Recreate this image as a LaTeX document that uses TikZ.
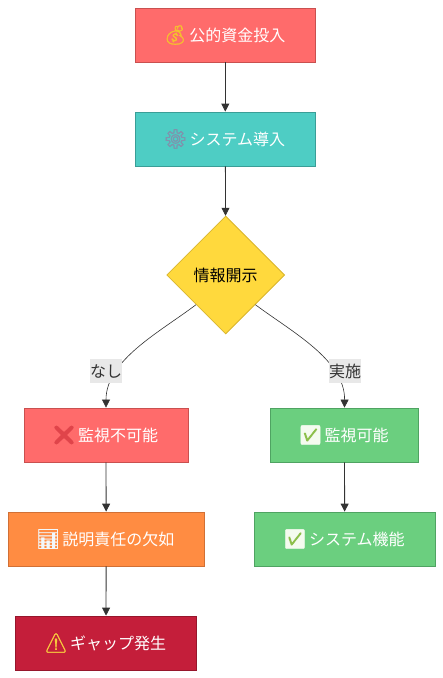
\documentclass[tikz,border=0pt]{standalone}
\usepackage{fontspec}
\setmainfont{Noto Sans CJK JP}
\newfontfamily\emo[FakeBold=1.5]{Noto Emoji}
\usetikzlibrary{shapes.geometric,arrows.meta}
\definecolor{cred}{HTML}{FF6B6B}\definecolor{credd}{HTML}{C9504F}
\definecolor{cteal}{HTML}{4ECDC4}\definecolor{ctealD}{HTML}{3A9E97}
\definecolor{cyel}{HTML}{FFD93D}\definecolor{cyelD}{HTML}{D9B52E}
\definecolor{cgrn}{HTML}{6BCF7F}\definecolor{cgrnD}{HTML}{4FA362}
\definecolor{corg}{HTML}{FF8C42}\definecolor{corgD}{HTML}{D17035}
\definecolor{ccrim}{HTML}{C41E3A}\definecolor{ccrimD}{HTML}{96162C}
\definecolor{cline}{HTML}{333333}\definecolor{clab}{HTML}{E8E8E8}
\definecolor{egold}{HTML}{F5C02E}\definecolor{egear}{HTML}{7F93AD}\definecolor{ered}{HTML}{E0444A}
\definecolor{echk}{HTML}{F4FBEF}\definecolor{echkbg}{HTML}{8CBF4A}\definecolor{ewarn}{HTML}{F8C93E}\definecolor{echart}{HTML}{F2F7FA}
\tikzset{
  x=1pt,y=-1pt,
  procbox/.style={draw,line width=0.8pt,text=white,font=\fontsize{16}{20}\selectfont,inner sep=0pt,minimum height=54pt,anchor=center},
  flow/.style={draw=cline,line width=0.8pt,-{Triangle[length=8pt,width=8pt]}},
  edgelab/.style={fill=clab,text=cline,font=\fontsize{16}{20}\selectfont,inner sep=0pt,minimum width=32pt,minimum height=24pt},
}
\newcommand{\emj}[2]{\hspace{-2pt}{\emo\fontsize{19}{20}\selectfont\textcolor{#1}{#2}}\hspace{2pt}}
\newcommand{\chk}{\hspace{-2pt}{\hspace{3pt}\textcolor{echkbg}{\rule[-2.5pt]{17pt}{17pt}}\hspace{-20pt}\emo\fontsize{19}{20}\selectfont\textcolor{echk}{✅}}\hspace{2pt}}
\begin{document}
\begin{tikzpicture}
\useasboundingbox (0,0) rectangle (443,678);
\node[procbox,fill=cred,draw=credd,minimum width=180.5pt] (a) at (225.3,35) {\emj{egold}{💰}公的資金投入};
\node[procbox,fill=cteal,draw=ctealD,minimum width=180.5pt] (b) at (225.3,139) {\emj{egear}{⚙}システム導入};
\node[diamond,shape aspect=1,draw=cyelD,fill=cyel,line width=0.8pt,inner sep=0pt,minimum width=118pt,minimum height=118pt,text=black,font=\fontsize{16}{20}\selectfont] (d) at (225.7,275) {情報開示};
\node[procbox,fill=cred,draw=credd,minimum width=164pt] (c) at (106,435) {\emj{ered}{❌}監視不可能};
\node[procbox,fill=corg,draw=corgD,minimum width=196.5pt] (e) at (106.2,539) {\emj{echart}{📊}説明責任の欠如};
\node[procbox,fill=ccrim,draw=ccrimD,minimum width=181pt] (f) at (106,643) {\emj{ewarn}{⚠}ギャップ発生};
\node[procbox,fill=cgrn,draw=cgrnD,minimum width=148.5pt] (g) at (344.5,435) {\chk 監視可能};
\node[procbox,fill=cgrn,draw=cgrnD,minimum width=181.5pt] (h) at (344.7,539) {\chk システム機能};
\draw[flow] (a) -- (b);
\draw[flow] (b) -- (d);
\draw[flow,line width=0.6pt] (d.south west) .. controls (160,332) and (106,360) .. (c.north);
\draw[flow,line width=0.6pt] (d.south east) .. controls (292,332) and (345,360) .. (g.north);
\draw[flow] (c) -- (e);
\draw[flow] (e) -- (f);
\draw[flow] (g) -- (h);
\node[edgelab] (l1) at (106,371) {なし};
\node[edgelab] (l2) at (345,371) {実施};
\end{tikzpicture}
\end{document}
